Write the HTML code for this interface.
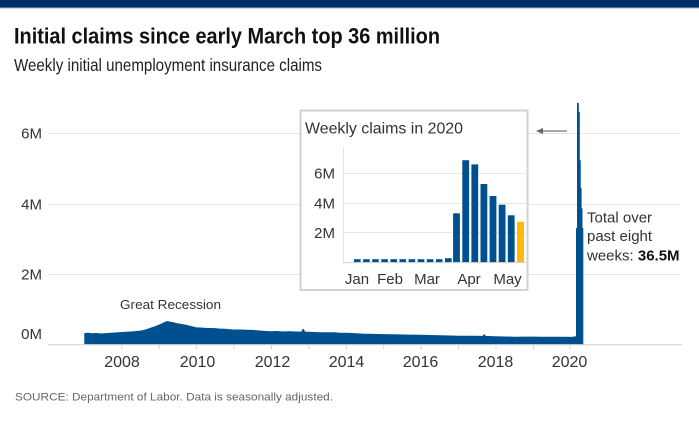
<!DOCTYPE html>
<html>
<head>
<meta charset="utf-8">
<style>
  html, body { margin: 0; padding: 0; background: #fff; }
  body { width: 699px; height: 424px; overflow: hidden; }
  svg { display: block; }
  text { font-family: "Liberation Sans", "DejaVu Sans", sans-serif; }
</style>
</head>
<body>
<svg width="699" height="424" viewBox="0 0 699 424" xmlns="http://www.w3.org/2000/svg">
  <!-- top band -->
  <rect x="0" y="0" width="699" height="7.5" fill="#002d66"/>
  <rect x="0" y="7.5" width="699" height="1" fill="#9fb0c6"/>

  <!-- title / subtitle -->
  <text x="14" y="43.3" font-size="22.5" font-weight="bold" fill="#111" textLength="426" lengthAdjust="spacingAndGlyphs">Initial claims since early March top 36 million</text>
  <text x="14" y="71" font-size="17.5" fill="#222" textLength="308" lengthAdjust="spacingAndGlyphs">Weekly initial unemployment insurance claims</text>

  <!-- main gridlines -->
  <g stroke="#e4e4e4" stroke-width="1">
    <line x1="48" y1="133.5" x2="680" y2="133.5"/>
    <line x1="48" y1="204.5" x2="680" y2="204.5"/>
    <line x1="48" y1="274.5" x2="680" y2="274.5"/>
  </g>

  <!-- y labels -->
  <g font-size="15" fill="#333" text-anchor="end">
    <text x="42" y="138.5">6M</text>
    <text x="42" y="209.5">4M</text>
    <text x="42" y="279.5">2M</text>
    <text x="42" y="339">0M</text>
  </g>

  <!-- main area -->
  <polygon fill="#00508f" points="
    84.3,344.3 84.3,333.1 88,332.8 92,333.3 96,333.0 100,333.4 103,333.4 107,333.0 111,332.8 115,332.5 118,332.3
    122,332.0 126,331.7 129.2,331.6 133,331.4 137,330.9 140.4,330.6 144,329.9 148,328.6 151.6,327.4 155,326.2
    159.1,324.6 162,323.3 164.5,322.1 166.6,321.1 169,321.4 172,322.0 174.1,322.5 178,323.4 182,324.0 185.3,324.6
    189,325.5 193,326.5 196.6,327.4 201,327.5 205,327.9 210,328.0 215.3,328.1 220,328.6 225,328.8 230,329.2
    234,329.5 240,329.5 246,329.8 252.7,329.9 258,330.4 264,330.9 271.4,331.3 277,331.0 283,331.4 290.1,331.3
    296,331.5 301.4,331.6 302.3,329.5 303.2,328.8 304.2,329.8 305.1,331.6 312,331.9 320,332.2 327.5,332.3
    334,332.3 340,332.7 346.2,332.7 352,333.0 358,333.4 364.9,333.8 371,333.7 377,334.0 383.7,334.1 392,334.3
    400,334.4 410,334.6 421.1,334.8 430,335.0 440,335.3 450,335.5 458.5,335.7 466,335.7 474,335.8 482.8,335.9
    483.5,334.6 484.0,334.1 485,334.8 485.5,335.9 495,336.2 505,336.5 514.7,336.7 524,336.6 533.4,336.6
    543,336.7 552.1,336.7 562,336.8 570.9,336.9 575,336.5 576,335.8
    576,228.1 577,228.1 577,102.9 578.8,102.9 578.8,111.8 579.8,111.8 579.8,160.2 580.7,160.2 580.7,188.2
    581.6,188.2 581.6,208.4 582.5,208.4 582.5,228 583.3,228 583.3,344.3"/>

  <!-- main x axis -->
  <line x1="48" y1="344.8" x2="682" y2="344.8" stroke="#cfcfcf" stroke-width="1"/>
  <g stroke="#d0d0d0" stroke-width="1">
    <line x1="121.7" y1="345" x2="121.7" y2="349"/>
    <line x1="159.1" y1="345" x2="159.1" y2="349"/>
    <line x1="196.6" y1="345" x2="196.6" y2="349"/>
    <line x1="234" y1="345" x2="234" y2="349"/>
    <line x1="271.4" y1="345" x2="271.4" y2="349"/>
    <line x1="308.9" y1="345" x2="308.9" y2="349"/>
    <line x1="346.3" y1="345" x2="346.3" y2="349"/>
    <line x1="383.7" y1="345" x2="383.7" y2="349"/>
    <line x1="421.1" y1="345" x2="421.1" y2="349"/>
    <line x1="458.6" y1="345" x2="458.6" y2="349"/>
    <line x1="496" y1="345" x2="496" y2="349"/>
    <line x1="533.4" y1="345" x2="533.4" y2="349"/>
    <line x1="570" y1="345" x2="570" y2="349"/>
  </g>
  <g font-size="16" fill="#333" text-anchor="middle">
    <text x="122" y="367">2008</text>
    <text x="197.5" y="367">2010</text>
    <text x="272.5" y="367">2012</text>
    <text x="346.5" y="367">2014</text>
    <text x="420.5" y="367">2016</text>
    <text x="495.5" y="367">2018</text>
    <text x="569.5" y="367">2020</text>
  </g>

  <!-- Great Recession label -->
  <text x="170.5" y="309" font-size="13" fill="#333" text-anchor="middle" textLength="101" lengthAdjust="spacingAndGlyphs">Great Recession</text>

  <!-- inset -->
  <rect x="300.5" y="110.5" width="227" height="179.5" fill="#fff" stroke="#d2d2d2" stroke-width="2"/>
  <text x="305" y="133.3" font-size="16" fill="#333" textLength="158" lengthAdjust="spacingAndGlyphs">Weekly claims in 2020</text>
  <g stroke="#e6e6e6" stroke-width="1">
    <line x1="343" y1="173.5" x2="527" y2="173.5"/>
    <line x1="343" y1="203.5" x2="527" y2="203.5"/>
    <line x1="343" y1="232.5" x2="527" y2="232.5"/>
  </g>
  <line x1="343.5" y1="147" x2="343.5" y2="262" stroke="#e2e2e2" stroke-width="1"/>
  <g font-size="15" fill="#333" text-anchor="end">
    <text x="335" y="178.5">6M</text>
    <text x="335" y="208.5">4M</text>
    <text x="335" y="238">2M</text>
  </g>
  <g fill="#00508f">
    <rect x="354" y="259.2" width="6.6" height="3"/>
    <rect x="363.1" y="259.2" width="6.6" height="3"/>
    <rect x="372.2" y="259.2" width="6.6" height="3"/>
    <rect x="381.3" y="259.2" width="6.6" height="3"/>
    <rect x="390.4" y="259.2" width="6.6" height="3"/>
    <rect x="399.5" y="259.2" width="6.6" height="3"/>
    <rect x="408.6" y="259.2" width="6.6" height="3"/>
    <rect x="417.7" y="259.2" width="6.6" height="3"/>
    <rect x="426.8" y="259.2" width="6.6" height="3"/>
    <rect x="435.9" y="259.2" width="6.6" height="3"/>
    <rect x="445" y="258.2" width="6.6" height="4"/>
    <rect x="453.1" y="213.3" width="6.8" height="48.9"/>
    <rect x="462.3" y="160.2" width="6.8" height="102"/>
    <rect x="471.4" y="164.4" width="6.8" height="97.8"/>
    <rect x="480.5" y="184" width="6.8" height="78.2"/>
    <rect x="489.6" y="196" width="6.8" height="66.2"/>
    <rect x="498.7" y="204.7" width="6.8" height="57.5"/>
    <rect x="507.8" y="215.3" width="6.8" height="46.9"/>
  </g>
  <rect x="517" y="221.7" width="7" height="40.5" fill="#ffb80c"/>
  <line x1="343" y1="262.6" x2="527" y2="262.6" stroke="#cfcfcf" stroke-width="1"/>
  <g font-size="15" fill="#333" text-anchor="middle">
    <text x="357" y="284">Jan</text>
    <text x="390" y="284">Feb</text>
    <text x="427" y="284">Mar</text>
    <text x="469" y="284">Apr</text>
    <text x="507.5" y="284">May</text>
  </g>

  <!-- arrow -->
  <line x1="541" y1="131" x2="567" y2="131" stroke="#777" stroke-width="1.3"/>
  <polygon points="536,131 543,128 543,134" fill="#666"/>

  <!-- annotation -->
  <g font-size="15" fill="#333">
    <text x="587" y="222.3">Total over</text>
    <text x="587" y="241">past eight</text>
    <text x="587" y="260.5">weeks: <tspan font-weight="bold" fill="#111">36.5M</tspan></text>
  </g>

  <!-- source -->
  <text x="15" y="400.5" font-size="11" fill="#666" textLength="318" lengthAdjust="spacingAndGlyphs">SOURCE: Department of Labor. Data is seasonally adjusted.</text>
</svg>
</body>
</html>
